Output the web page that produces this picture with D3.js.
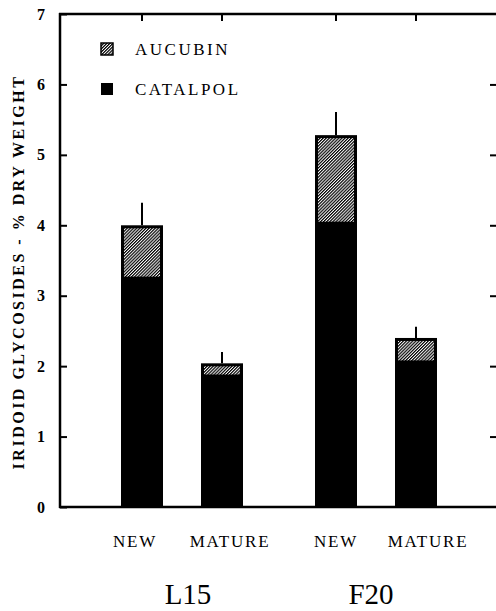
<!DOCTYPE html>
<html>
<head>
<meta charset="utf-8">
<script src="https://cdn.jsdelivr.net/npm/d3@7"></script>
<style>
  html, body { margin: 0; padding: 0; background: #fff; }
  svg { display: block; }
  svg text { font-family: "Liberation Serif", "Times New Roman", Times, "DejaVu Serif", serif; fill: #000; }
</style>
</head>
<body>
<svg id="chart" width="496" height="611"></svg>
<script>
// Leaf iridoid glycoside content (% dry weight), two lines, new vs mature leaves
const groups = ["L15", "F20"];
const leafAges = ["NEW", "MATURE"];
const catalpol = { L15: [3.25, 1.86], F20: [4.03, 2.06] };
const aucubin = { L15: [0.75, 0.18], F20: [1.25, 0.34] };
const totalErr = { L15: [0.32, 0.16], F20: [0.33, 0.16] };
const yTicks = [0, 1, 2, 3, 4, 5, 6, 7];
const seriesNames = ["AUCUBIN", "CATALPOL"];
const SERIF = '"Liberation Serif", "Times New Roman", Times, "DejaVu Serif", serif';

const svg = d3.select("#chart");
const left = 60, plotRight = 497;

const y = d3.scaleLinear().domain([0, 7]).range([507, 14]);
const xg = d3.scaleBand().domain(groups).range([85, 473]).paddingInner(0).paddingOuter(0);
const xa = d3.scaleBand().domain(leafAges).range([0, xg.bandwidth()])
  .paddingInner(0.475).paddingOuter(0.45);
const bw = xa.bandwidth();

// fine diagonal hatch for aucubin
const defs = svg.append("defs");
const pat = defs.append("pattern")
  .attr("id", "hatch")
  .attr("patternUnits", "userSpaceOnUse")
  .attr("width", 2.2).attr("height", 2.2)
  .attr("patternTransform", "rotate(45)");
pat.append("rect").attr("width", 2.2).attr("height", 2.2).attr("fill", "#fff");
pat.append("rect").attr("width", 1.2).attr("height", 2.2).attr("fill", "#000");

// stacked bars
const cells = groups.flatMap(gk => leafAges.map((a, j) => ({
  g: gk, age: a,
  cat: catalpol[gk][j], auc: aucubin[gk][j], err: totalErr[gk][j],
  x0: xg(gk) + xa(a)
})));

const barG = svg.append("g");
cells.forEach(c => {
  barG.append("rect")
    .attr("x", c.x0).attr("width", bw)
    .attr("y", y(c.cat)).attr("height", y(0) - y(c.cat))
    .attr("fill", "#000");
  const top = c.cat + c.auc;
  barG.append("rect")
    .attr("x", c.x0 + 1.5).attr("width", bw - 3)
    .attr("y", y(top) + 1.5).attr("height", y(c.cat) - y(top) - 1.5)
    .attr("fill", "url(#hatch)")
    .attr("stroke", "#000").attr("stroke-width", 3);
  // error bar, upper arm only
  barG.append("line")
    .attr("x1", c.x0 + bw / 2).attr("x2", c.x0 + bw / 2)
    .attr("y1", y(top)).attr("y2", y(top + c.err))
    .attr("stroke", "#000").attr("stroke-width", 2);
});

// left axis ticks and labels
const yAxis = d3.axisLeft(y).tickValues(yTicks).tickSize(-7).tickPadding(15).tickFormat(d3.format("d"));
const ya = svg.append("g").attr("transform", `translate(${left},0)`).call(yAxis);
ya.attr("font-family", null);
ya.select(".domain").remove();
ya.selectAll(".tick line").attr("stroke", "#000").attr("stroke-width", 2);
ya.selectAll(".tick text")
  .style("font-family", SERIF)
  .attr("font-weight", "bold").attr("font-size", 16).attr("fill", "#000");

// frame: left, top, bottom
svg.append("line").attr("x1", left).attr("x2", left)
  .attr("y1", y(7) - 1).attr("y2", y(0) + 1).attr("stroke", "#000").attr("stroke-width", 2.5);
svg.append("line").attr("x1", left - 1).attr("x2", plotRight)
  .attr("y1", y(7)).attr("y2", y(7)).attr("stroke", "#000").attr("stroke-width", 2.5);
svg.append("line").attr("x1", left - 1).attr("x2", plotRight)
  .attr("y1", y(0)).attr("y2", y(0)).attr("stroke", "#000").attr("stroke-width", 2.5);

// right-side ticks
const yr = d3.axisRight(y).tickValues(yTicks.slice(1, 7)).tickSize(-7).tickFormat("");
const yra = svg.append("g").attr("transform", `translate(${plotRight},0)`).call(yr);
yra.select(".domain").remove();
yra.selectAll(".tick line").attr("stroke", "#000").attr("stroke-width", 2);

// top ticks at bar centres
svg.append("g").selectAll("line").data(cells).join("line")
  .attr("x1", c => c.x0 + bw / 2).attr("x2", c => c.x0 + bw / 2)
  .attr("y1", y(7)).attr("y2", y(7) + 7)
  .attr("stroke", "#000").attr("stroke-width", 2);

// leaf-age labels, set slightly off the bar centres
const labelShift = [-7, 8, 0, 12];
svg.append("g").selectAll("text").data(cells).join("text")
  .attr("x", (c, i) => c.x0 + bw / 2 + labelShift[i]).attr("y", 547)
  .attr("text-anchor", "middle")
  .style("font-family", SERIF)
  .attr("font-size", 17).attr("letter-spacing", 1.8)
  .text(c => c.age);

// line labels
svg.append("g").selectAll("text").data(groups).join("text")
  .attr("x", d => xg(d) + xg.bandwidth() / 2 + (d === "L15" ? 6 : -5)).attr("y", 604)
  .attr("text-anchor", "middle")
  .style("font-family", SERIF)
  .attr("font-size", 29)
  .text(d => d);

// y-axis title
svg.append("text")
  .attr("transform", `translate(24,272) rotate(-90)`)
  .attr("text-anchor", "middle")
  .style("font-family", SERIF)
  .attr("font-weight", "bold").attr("font-size", 16).attr("letter-spacing", 2.5)
  .text("IRIDOID GLYCOSIDES - % DRY WEIGHT");

// legend
const legend = svg.append("g");
seriesNames.forEach((name, i) => {
  const ly = 42 + i * 40;
  legend.append("rect")
    .attr("x", 101).attr("y", ly + 1).attr("width", 12).attr("height", 12)
    .attr("fill", i === 0 ? "url(#hatch)" : "#000")
    .attr("stroke", "#000").attr("stroke-width", i === 0 ? 1.5 : 0);
  legend.append("text")
    .attr("x", 135).attr("y", ly + 13)
    .style("font-family", SERIF)
    .attr("font-size", 17).attr("letter-spacing", 2.5)
    .text(name);
});
</script>
</body>
</html>
